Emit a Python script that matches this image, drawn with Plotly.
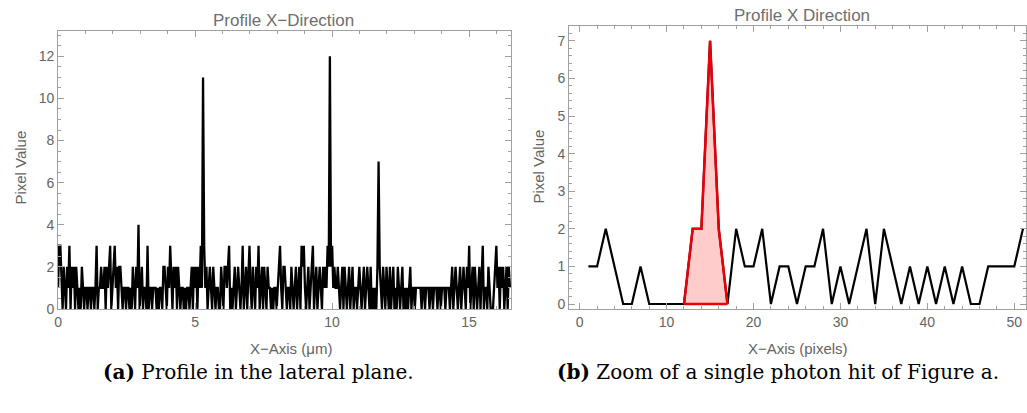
import numpy as np
import plotly.graph_objects as go

# ---------------- data ----------------
# Panel (a): lateral profile, pixel values along x (µm)
pitch_um = 0.04133
profile_a = [
    1,3,3,1,0,2,1,0,2,1,3,0,2,1,2,0,2,1,0,1,
    0,2,1,0,1,1,0,1,1,0,1,1,0,1,3,0,1,1,2,1,
    1,2,0,2,1,2,3,0,1,2,3,1,2,0,2,2,1,0,1,1,
    0,1,1,0,1,0,2,1,0,2,1,4,0,1,2,0,1,1,0,3,
    0,1,1,0,1,1,1,0,1,0,1,1,0,2,2,1,0,2,1,3,
    1,0,2,1,2,0,2,1,0,1,1,0,1,0,1,1,0,1,2,0,
    2,1,2,0,2,1,3,1,11,3,1,2,0,1,2,1,0,2,1,0,
    1,1,0,0,2,1,0,2,2,1,2,3,0,1,0,1,2,0,1,2,
    1,0,1,3,0,1,2,0,2,3,1,0,2,1,0,2,1,3,0,1,
    2,0,2,1,0,2,1,1,0,1,0,1,1,0,1,2,3,1,0,2,
    2,1,0,1,1,0,2,1,0,1,2,0,1,2,0,3,2,3,1,0,
    1,2,0,1,2,3,0,1,2,0,1,2,1,0,2,1,2,1,3,2,
    12,2,3,1,2,1,1,2,1,0,1,2,0,2,1,0,1,2,0,1,
    2,0,1,1,0,1,2,1,0,1,2,0,1,2,1,0,2,0,1,0,
    1,0,2,7,2,1,0,2,1,0,2,1,0,2,0,1,2,0,1,0,
    2,1,0,1,2,0,1,0,1,0,1,2,0,1,1,0,1,1,1,1,
    1,0,1,1,0,1,1,1,0,1,1,0,1,1,1,0,1,1,0,1,
    1,1,0,1,1,1,0,1,2,0,1,2,1,0,1,2,0,1,2,1,
    0,2,1,3,0,1,2,0,2,1,0,1,2,0,2,3,0,1,1,0,
    2,1,0,0,0,1,2,3,1,2,0,2,1,2,0,1,2,0,2,1,
]
x_a = np.arange(len(profile_a)) * pitch_um

# Panel (b): zoom of a single photon hit (pixels 1..51)
x_b = list(range(1, 52))
profile_b = [1,1,2,1,0,0,1,0,0,0,0,0,2,2,7,2,0,2,1,1,
             2,0,1,1,0,1,1,2,0,1,0,1,2,0,2,1,0,1,0,1,
             0,1,0,1,0,0,1,1,1,1,2]
hit_start, hit_end = 12, 17  # highlighted photon hit (pixel indices)
hit_x = [x for x in x_b if hit_start <= x <= hit_end]
hit_y = [profile_b[x - 1] for x in hit_x]

titles = ["Profile X\u2212Direction", "Profile X Direction"]
xlabels = ["X\u2212Axis (\u03bcm)", "X\u2212Axis (pixels)"]
ylabel = "Pixel Value"
captions = ["<b>(a)</b> Profile in the lateral plane.",
            "<b>(b)</b> Zoom of a single photon hit of Figure a."]

# ---------------- figure ----------------
W, H = 1027, 413
FRAME = "#a0a0a0"
TXT = "#646464"
FONT = "Liberation Sans, Arial, sans-serif"

fig = go.Figure()
fig.add_trace(go.Scatter(x=x_a, y=profile_a, mode="lines",
                         line=dict(color="black", width=2.3),
                         xaxis="x", yaxis="y", showlegend=False))
fig.add_trace(go.Scatter(x=x_b, y=profile_b, mode="lines",
                         line=dict(color="black", width=2.2),
                         xaxis="x2", yaxis="y2", showlegend=False))
fig.add_trace(go.Scatter(x=hit_x, y=hit_y, mode="lines", fill="tozeroy",
                         fillcolor="rgba(255,0,0,0.2)",
                         line=dict(color="#e8000b", width=2.5),
                         xaxis="x2", yaxis="y2", showlegend=False))
# close the bottom of the highlighted region
fig.add_trace(go.Scatter(x=[hit_start, hit_end], y=[0, 0], mode="lines",
                         line=dict(color="#e8000b", width=2.5),
                         xaxis="x2", yaxis="y2", showlegend=False))

def px_x(p):
    return p / W

def px_y(p):
    return 1 - p / H

def axis_style(domain, rng, dtick, minor_dtick, anchor, **kw):
    d = dict(domain=domain, range=rng, dtick=dtick, tick0=0,
             showline=True, linecolor=FRAME, linewidth=1, mirror="ticks",
             ticks="inside", ticklen=6, tickcolor=FRAME, tickwidth=1,
             minor=dict(dtick=minor_dtick, tick0=0, ticks="inside", ticklen=3,
                        tickcolor=FRAME, tickwidth=1, showgrid=False),
             showgrid=False, zeroline=False, anchor=anchor,
             tickfont=dict(family=FONT, size=14, color=TXT))
    d.update(kw)
    return d

ydom = [px_y(315), px_y(31.7)]
ydom2 = [px_y(315), px_y(26.7)]
fig.update_layout(
    width=W, height=H,
    margin=dict(l=0, r=0, t=0, b=0),
    paper_bgcolor="white", plot_bgcolor="white",
    xaxis=axis_style([px_x(54.3), px_x(509)], [0, 16.53], 5, 1, "y"),
    yaxis=axis_style(ydom, [0, 13.2], 2, 0.5, "x"),
    xaxis2=axis_style([px_x(567.3), px_x(1026)], [-1.22, 51.35], 10, 2, "y2"),
    yaxis2=axis_style(ydom2, [-0.13, 7.39], 1, 0.2, "x2"),
)

def note(text, x, y, size, color=TXT, family=FONT, angle=0):
    return dict(text=text, x=px_x(x), y=px_y(y), xref="paper", yref="paper",
                xanchor="center", yanchor="middle", showarrow=False,
                textangle=angle, font=dict(family=family, size=size, color=color))

ann = [
    note(titles[0], 281, 21, 17, "#6e6e6e"),
    note(titles[1], 801, 16, 17, "#6e6e6e"),
    note(xlabels[0], 288, 355, 15),
    note(xlabels[1], 797, 355, 15),
    note(ylabel, 17, 171, 15, angle=-90),
    note(ylabel, 537, 170, 15, angle=-90),
    note(captions[0], 255, 379, 20, "black", "DejaVu Serif, serif"),
    note(captions[1], 777, 379, 20, "black", "DejaVu Serif, serif"),
]
fig.update_layout(annotations=ann)

fig.write_html("out.html")
